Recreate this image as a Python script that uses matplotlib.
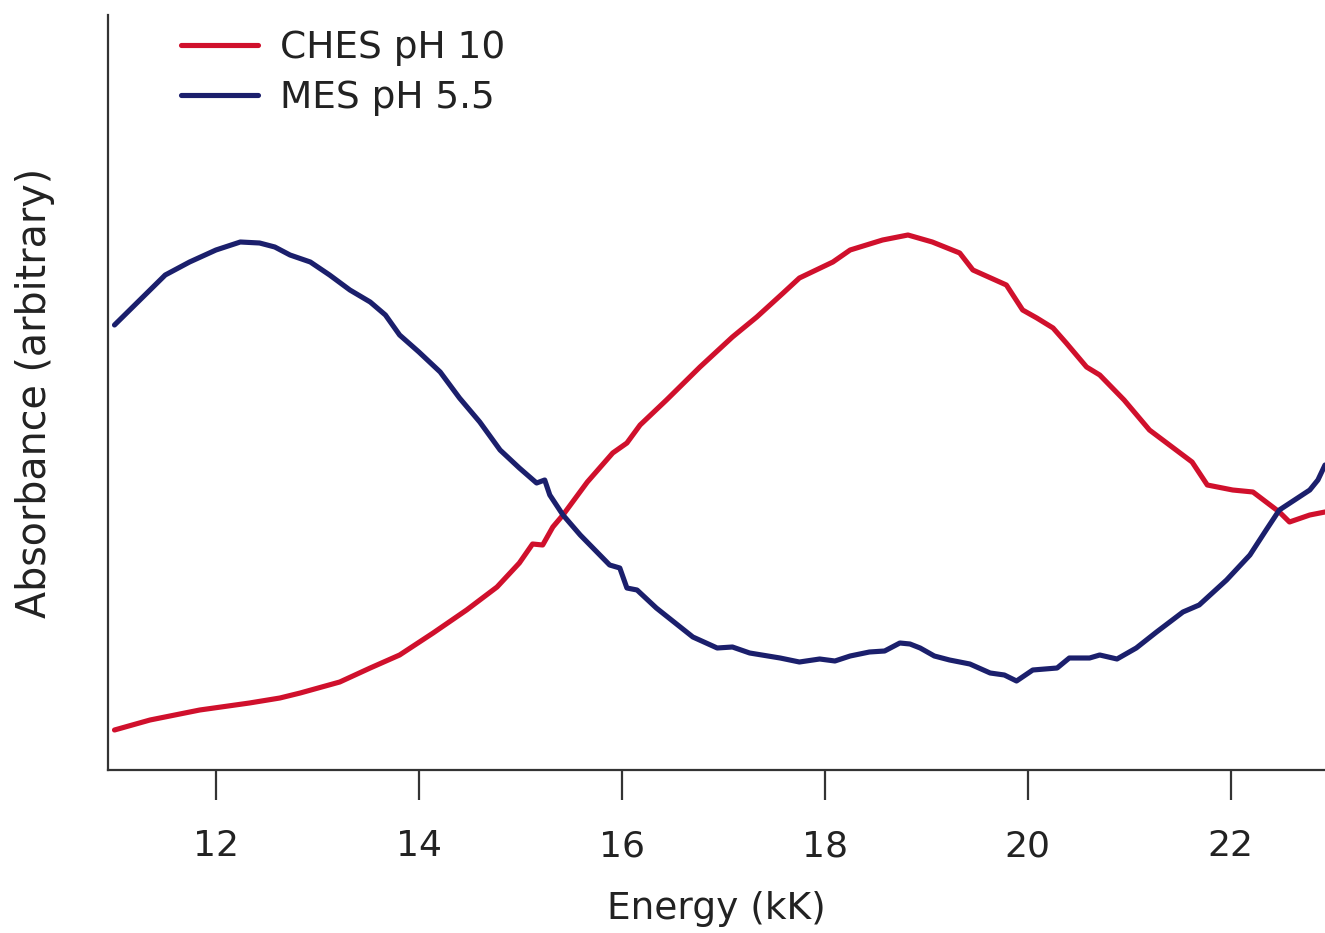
import matplotlib
matplotlib.use("Agg")
import matplotlib.pyplot as plt

# Energy (kK) and absorbance (arbitrary units)
ches_x = [11.00, 11.35, 11.84, 12.33, 12.63, 12.83, 13.22, 13.52, 13.81, 14.14, 14.47, 14.77,
          14.99, 15.12, 15.22, 15.32, 15.42, 15.66, 15.91, 16.05, 16.18, 16.44, 16.77, 17.09,
          17.33, 17.59, 17.75, 18.08, 18.25, 18.57, 18.82, 19.06, 19.33, 19.46, 19.79, 19.95,
          20.09, 20.25, 20.38, 20.58, 20.71, 20.95, 21.20, 21.62, 21.77, 22.02, 22.22, 22.48,
          22.58, 22.78, 22.93]
ches_y = [0.40, 0.50, 0.60, 0.67, 0.72, 0.77, 0.88, 1.02, 1.15, 1.37, 1.60, 1.83,
          2.07, 2.26, 2.25, 2.43, 2.55, 2.88, 3.17, 3.27, 3.45, 3.70, 4.03, 4.33,
          4.53, 4.77, 4.92, 5.08, 5.20, 5.30, 5.35, 5.28, 5.17, 5.00, 4.85, 4.60,
          4.52, 4.42, 4.27, 4.03, 3.95, 3.70, 3.40, 3.08, 2.85, 2.80, 2.78, 2.58,
          2.48, 2.55, 2.58]

mes_x = [11.00, 11.15, 11.35, 11.50, 11.74, 12.00, 12.24, 12.43, 12.58, 12.73, 12.93, 13.12,
         13.32, 13.52, 13.67, 13.81, 14.00, 14.21, 14.40, 14.60, 14.80, 14.99, 15.16, 15.24,
         15.29, 15.42, 15.59, 15.88, 15.98, 16.05, 16.15, 16.34, 16.70, 16.94, 17.09, 17.26,
         17.56, 17.75, 17.95, 18.10, 18.25, 18.44, 18.59, 18.74, 18.84, 18.94, 19.08, 19.23,
         19.43, 19.63, 19.77, 19.89, 20.05, 20.29, 20.41, 20.61, 20.71, 20.88, 21.07, 21.27,
         21.53, 21.69, 21.96, 22.19, 22.35, 22.48, 22.63, 22.78, 22.86, 22.93]
mes_y = [4.45, 4.60, 4.80, 4.95, 5.08, 5.20, 5.28, 5.27, 5.23, 5.15, 5.08, 4.95,
         4.80, 4.68, 4.55, 4.35, 4.18, 3.98, 3.72, 3.48, 3.20, 3.02, 2.87, 2.90,
         2.75, 2.55, 2.35, 2.05, 2.02, 1.82, 1.80, 1.62, 1.33, 1.22, 1.23, 1.17,
         1.12, 1.08, 1.11, 1.09, 1.14, 1.18, 1.19, 1.27, 1.26, 1.22, 1.14, 1.10,
         1.06, 0.97, 0.95, 0.89, 1.00, 1.02, 1.12, 1.12, 1.15, 1.11, 1.22, 1.38,
         1.58, 1.65, 1.90, 2.15, 2.40, 2.60, 2.70, 2.80, 2.90, 3.05]

series_labels = ["CHES pH 10", "MES pH 5.5"]
xticks = [12, 14, 16, 18, 20, 22]

RED = "#d0102c"
NAVY = "#1b1f6c"
GRAY = "#333333"
TXT = "#222222"

plt.rcParams["font.family"] = ["DejaVu Sans"]

fig = plt.figure(figsize=(13.25, 9.33), dpi=100)
ax = fig.add_axes([108/1325, 163/933, 1 - 108/1325, (770 - 15)/933])

ax.plot(ches_x, ches_y, color=RED, lw=3.7, label=series_labels[0],
        solid_joinstyle="round", solid_capstyle="round")
ax.plot(mes_x, mes_y, color=NAVY, lw=3.7, label=series_labels[1],
        solid_joinstyle="round", solid_capstyle="round")

ax.set_xlim(10.936, 22.93)
ax.set_ylim(0, 7.55)

for s in ["top", "right"]:
    ax.spines[s].set_visible(False)
for s in ["left", "bottom"]:
    ax.spines[s].set_linewidth(1.6)
    ax.spines[s].set_color(GRAY)

ax.set_xticks(xticks)
ax.set_xticklabels([str(t) for t in xticks])
ax.set_yticks([])
ax.tick_params(axis="x", direction="out", length=21.5, width=1.6, color=GRAY,
               labelsize=26, pad=21, labelcolor=TXT)

ax.set_xlabel("Energy (kK)", fontsize=27, color=TXT, labelpad=20)
ax.set_ylabel("Absorbance (arbitrary)", fontsize=28.5, color=TXT, labelpad=38)

leg = ax.legend(loc="upper left", bbox_to_anchor=(155/1325, 1 - 4/933),
                bbox_transform=fig.transFigure, frameon=False, fontsize=27,
                handlelength=2.05, handletextpad=0.59, labelspacing=0.38,
                borderpad=0.2)
for t in leg.get_texts():
    t.set_color(TXT)
for l in leg.get_lines():
    l.set_linewidth(3.7)

fig.savefig("out.png", dpi=100)
